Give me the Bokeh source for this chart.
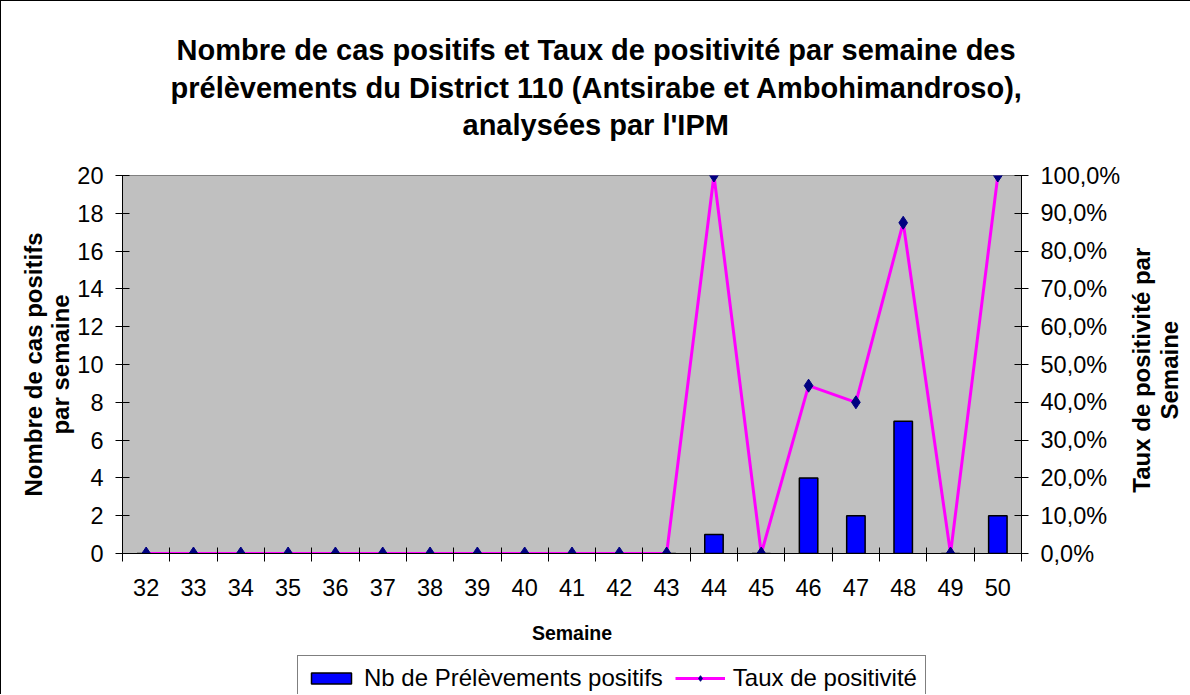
import math
from bokeh.plotting import figure
from bokeh.models import (Range1d, LinearAxis, FixedTicker, Legend, LegendItem, Title, Label)
from bokeh.layouts import column, row
from bokeh.embed import file_html
from bokeh.resources import INLINE

weeks = [32, 33, 34, 35, 36, 37, 38, 39, 40, 41, 42, 43, 44, 45, 46, 47, 48, 49, 50]
nb_positifs = [0, 0, 0, 0, 0, 0, 0, 0, 0, 0, 0, 0, 1, 0, 4, 2, 7, 0, 2]
taux = [0, 0, 0, 0, 0, 0, 0, 0, 0, 0, 0, 0, 1.0, 0, 0.444, 0.40, 0.875, 0, 1.0]
left_ticks = [0, 2, 4, 6, 8, 10, 12, 14, 16, 18, 20]
right_ticks = [0.0, 0.1, 0.2, 0.3, 0.4, 0.5, 0.6, 0.7, 0.8, 0.9, 1.0]
right_labels = ["0,0%", "10,0%", "20,0%", "30,0%", "40,0%", "50,0%",
                "60,0%", "70,0%", "80,0%", "90,0%", "100,0%"]
week_labels = [str(w) for w in weeks]
title_lines = ["Nombre de cas positifs et Taux de positivité par semaine des",
               "prélèvements du District 110 (Antsirabe et Ambohimandroso),",
               "analysées par l'IPM"]
legend_labels = ["Nb de Prélèvements positifs", "Taux de positivité"]
right_axis_title = "Taux de positivité par\nSemaine"

FONT = "Liberation Sans"
TICK_FS = "23.5px"
BAR_STYLE = dict(fill_color="#0000FF", line_color="black", line_width=1.5)
LINE_STYLE = dict(line_color="#FF00FF", line_width=3)
MARK_STYLE = dict(marker="diamond", size=13, fill_color="#000080", line_color="#000080")

p = figure(width=1128, height=650, output_backend="svg", toolbar_location=None,
           x_range=Range1d(31.5, 50.5), y_range=Range1d(0, 20),
           min_border_left=121, min_border_right=108, min_border_top=174,
           min_border_bottom=98)
p.extra_y_ranges = {"pct": Range1d(0, 1)}
p.styles = {"border-left": "1px solid black", "border-top": "1px solid black"}

p.background_fill_color = "#C0C0C0"
p.border_fill_color = "white"
p.outline_line_color = "#808080"
p.grid.visible = False

# spacer between the frame and the title block
p.add_layout(Title(text=" ", text_font_size="1px", standoff=30), "above")
# Title lines (left aligned with offsets so each line is centred near x=595)
title_offsets = [54, 48, 340]
title_standoffs = [6, 2, 4]
for t, off, so in reversed(list(zip(title_lines, title_offsets, title_standoffs))):
    p.add_layout(Title(text=t, align="left", offset=off, standoff=so,
                       text_font=FONT, text_font_size="29px", text_font_style="bold",
                       text_color="black"), "above")

# x axis
xa = p.xaxis[0]
xa.ticker = FixedTicker(ticks=weeks, minor_ticks=[w - 0.5 for w in weeks] + [weeks[-1] + 0.5])
xa.major_label_overrides = {w: l for w, l in zip(weeks, week_labels)}
xa.major_tick_line_color = None
xa.major_tick_out = 7
xa.major_tick_in = 0
xa.minor_tick_line_color = "black"
xa.minor_tick_in = 6
xa.minor_tick_out = 8
xa.major_label_standoff = 17
xa.major_label_text_font = FONT
xa.major_label_text_font_size = TICK_FS
xa.major_label_text_color = "black"
xa.axis_line_color = "black"
xa.axis_label = "Semaine"
xa.axis_label_text_font = FONT
xa.axis_label_text_font_size = "19.5px"
xa.axis_label_text_font_style = "bold"
xa.axis_label_text_color = "black"
xa.axis_label_standoff = 23

# left axis
ya = p.yaxis[0]
ya.ticker = FixedTicker(ticks=left_ticks)
ya.minor_tick_line_color = None
ya.major_tick_in = 7
ya.major_tick_out = 7
ya.major_tick_line_color = "black"
ya.axis_line_color = "black"
ya.major_label_standoff = 12
ya.major_label_text_font = FONT
ya.major_label_text_font_size = TICK_FS
ya.major_label_text_color = "black"
ya.axis_label = "Nombre de cas positifs\npar semaine"
ya.axis_label_text_font = FONT
ya.axis_label_text_font_size = "24px"
ya.axis_label_text_font_style = "bold"
ya.axis_label_text_color = "black"
ya.axis_label_text_line_height = 1.0
ya.axis_label_standoff = 0

# right axis (its title is drawn in the narrow strip to the right)
ra = LinearAxis(y_range_name="pct", ticker=FixedTicker(ticks=right_ticks))
ra.major_label_overrides = {t: l for t, l in zip(right_ticks, right_labels)}
ra.minor_tick_line_color = None
ra.major_tick_in = 7
ra.major_tick_out = 7
ra.axis_line_color = "black"
ra.major_label_standoff = 12
ra.major_label_text_font = FONT
ra.major_label_text_font_size = TICK_FS
ra.major_label_text_color = "black"
p.add_layout(ra, "right")

p.vbar(x=weeks, top=nb_positifs, width=0.39, bottom=0, **BAR_STYLE)
p.line(x=weeks, y=taux, y_range_name="pct", **LINE_STYLE)
p.scatter(x=weeks, y=taux, y_range_name="pct", **MARK_STYLE)

# Right strip holding the right axis title, read bottom-to-top
p3 = figure(width=62, height=650, output_backend="svg", toolbar_location=None,
            x_range=Range1d(0, 1), y_range=Range1d(0, 1),
            x_axis_type=None, y_axis_type=None, min_border=0)
p3.styles = {"border-top": "1px solid black"}
p3.outline_line_color = None
p3.background_fill_color = "white"
p3.border_fill_color = "white"
p3.add_layout(Label(x=0.44, y=0.485, text=right_axis_title, angle=math.pi / 2,
                    text_align="center", text_baseline="middle",
                    text_font=FONT, text_font_size="24px", text_font_style="bold",
                    text_color="black", text_line_height=1.03))

# Legend strip below the chart (its renderers lie outside this strip's ranges)
p2 = figure(width=1190, height=44, output_backend="svg", toolbar_location=None,
            x_range=Range1d(0, 1), y_range=Range1d(10, 11),
            x_axis_type=None, y_axis_type=None, min_border=0)
p2.styles = {"border-left": "1px solid black"}
p2.outline_line_color = None
p2.background_fill_color = "white"
p2.border_fill_color = "white"
lb = p2.vbar(x=weeks, top=nb_positifs, width=0.39, **BAR_STYLE)
ll = p2.line(x=weeks, y=taux, **LINE_STYLE)
lm = p2.scatter(x=weeks, y=taux, **MARK_STYLE)
legend = Legend(items=[LegendItem(label=legend_labels[0], renderers=[lb]),
                       LegendItem(label=legend_labels[1], renderers=[ll, lm])],
                orientation="horizontal", location=(296, -7),
                label_text_font=FONT, label_text_font_size="24px", label_text_color="black",
                border_line_color="black", border_line_width=1,
                background_fill_color="white", background_fill_alpha=1,
                glyph_width=50, glyph_height=14, padding=8, spacing=12,
                margin=0, label_standoff=8)
p2.add_layout(legend, "center")

open("out.html", "w").write(file_html(column(row(p, p3, spacing=0), p2, spacing=0), INLINE))
